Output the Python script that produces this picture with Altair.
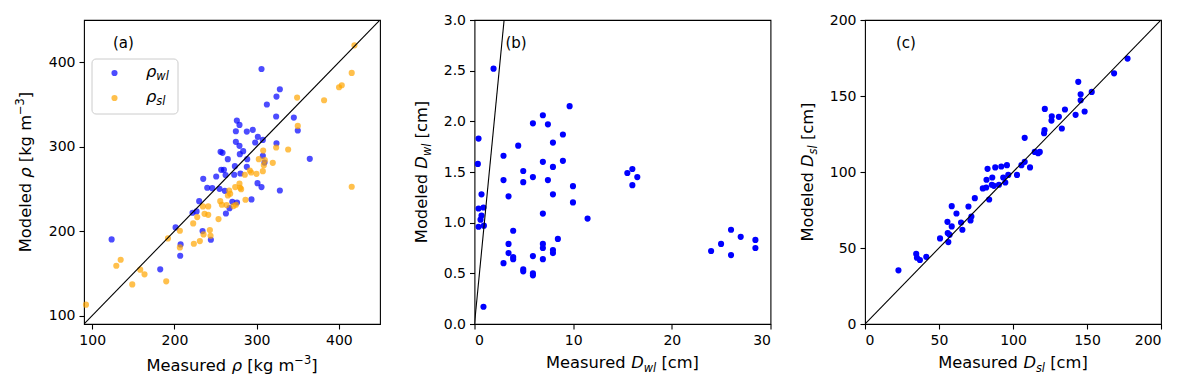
import altair as alt
import pandas as pd

# ---------------- data ----------------
# Panel (a): density
rho_wl_measured = [305.9, 328.2, 324.1, 312.4, 323.7, 350.0, 275.9, 279.1, 274.7, 288.0,
                   295.3, 301.4, 298.2, 307.5, 274.7, 279.1, 324.1, 283.6, 256.1, 258.5,
                   279.5, 264.9, 307.5, 309.5, 273.5, 288.0, 364.6, 256.9, 260.2, 250.8,
                   262.2, 272.7, 235.0, 301.0, 305.9, 328.2, 239.9, 246.0, 254.8, 293.7,
                   270.4, 276.1, 230.1, 262.6, 222.0, 226.9, 201.4, 234.2, 244.3, 207.5,
                   207.0, 123.6, 182.7, 280.3, 288.5, 261.3, 267.0, 345.2]
rho_wl_modeled = [392.0, 368.0, 359.3, 349.9, 335.7, 319.1, 330.9, 325.8, 318.3, 317.9,
                  319.9, 311.6, 304.9, 308.0, 305.7, 301.0, 304.0, 294.7, 293.9, 292.7,
                  291.1, 285.2, 289.1, 281.2, 276.9, 276.1, 285.6, 272.6, 272.6, 264.7,
                  266.3, 266.7, 261.9, 256.8, 252.1, 248.1, 251.3, 250.9, 250.1, 237.5,
                  234.7, 233.9, 235.5, 220.9, 221.7, 223.3, 204.4, 200.0, 189.8, 184.2,
                  170.8, 190.2, 154.7, 268.2, 285.2, 247.7, 227.2, 334.4]
rho_sl_measured = [418.9, 415.6, 403.5, 400.2, 382.0, 349.2, 350.0, 415.6, 338.3, 323.7,
                   307.9, 302.6, 309.9, 319.6, 308.7, 291.7, 285.6, 299.8, 307.5, 293.3,
                   279.1, 279.9, 281.1, 273.9, 266.6, 267.8, 265.0, 255.7, 257.7, 263.4,
                   271.9, 274.7, 286.4, 234.6, 241.1, 236.6, 241.1, 227.7, 253.6, 222.8,
                   206.6, 243.1, 235.4, 243.9, 230.9, 223.6, 206.6, 192.1, 134.6, 129.3,
                   158.4, 163.6, 148.7, 190.0, 92.4]
rho_sl_modeled = [420.0, 387.3, 372.7, 370.4, 355.0, 358.1, 324.6, 252.5, 296.6, 299.0,
                  295.4, 285.2, 284.0, 280.9, 278.1, 271.8, 266.7, 267.8, 271.0, 269.4,
                  256.4, 251.3, 249.7, 252.1, 248.1, 244.2, 242.2, 235.5, 231.2, 230.8,
                  229.6, 231.2, 237.1, 229.2, 229.2, 220.5, 219.3, 216.6, 214.2, 209.1,
                  200.4, 201.2, 196.1, 194.5, 188.2, 185.0, 180.7, 191.3, 166.1, 159.0,
                  154.3, 148.8, 136.9, 140.5, 112.9]

# Panel (b): D_wl
d_wl_measured = [1.93, 9.64, 6.93, 5.92, 7.44, 8.96, 7.95, 0.41, 4.43, 2.94,
                 0.34, 6.93, 8.96, 7.95, 4.94, 5.92, 2.94, 4.94, 7.44, 9.98,
                 7.95, 3.45, 9.98, 0.71, 0.41, 0.91, 0.71, 0.61, 0.41, 0.95,
                 6.93, 11.46, 15.49, 16.0, 16.5, 16.0, 3.92, 3.45, 8.45, 6.93,
                 6.93, 7.95, 7.95, 3.45, 3.92, 3.92, 5.92, 6.93, 2.94, 4.94,
                 4.94, 5.92, 5.92, 0.91, 26.0, 26.98, 28.47, 28.47, 24.99, 23.98,
                 26.0]
d_wl_modeled = [2.52, 2.15, 2.06, 1.98, 1.97, 1.87, 1.79, 1.83, 1.76, 1.66,
                1.58, 1.60, 1.61, 1.55, 1.51, 1.45, 1.42, 1.40, 1.42, 1.36,
                1.28, 1.26, 1.20, 1.28, 1.14, 1.15, 1.07, 1.03, 0.96, 0.97,
                1.09, 1.04, 1.49, 1.53, 1.45, 1.37, 0.92, 0.79, 0.84, 0.79,
                0.75, 0.73, 0.70, 0.70, 0.66, 0.64, 0.67, 0.64, 0.60, 0.54,
                0.52, 0.50, 0.48, 0.17, 0.93, 0.86, 0.83, 0.75, 0.79, 0.72,
                0.68]

# Panel (c): D_sl
d_sl_measured = [177.4, 168.3, 144.1, 153.2, 145.7, 145.7, 148.4, 142.3, 135.1, 131.0,
                 126.2, 126.0, 121.5, 133.0, 121.3, 121.0, 107.9, 118.1, 117.0, 114.7,
                 107.9, 105.7, 111.5, 102.7, 95.9, 92.1, 88.0, 82.8, 96.8, 93.4,
                 94.8, 90.5, 86.0, 82.1, 85.7, 87.1, 81.9, 79.6, 83.9, 74.2,
                 69.9, 58.6, 61.8, 71.9, 71.3, 64.9, 55.7, 58.6, 65.8, 55.9,
                 57.2, 50.7, 56.3, 34.6, 35.1, 37.1, 41.4, 22.6]
d_sl_modeled = [174.6, 164.9, 159.3, 152.7, 151.1, 147.2, 139.8, 137.6, 141.1, 136.3,
                136.7, 133.8, 141.5, 128.6, 127.5, 125.5, 122.5, 113.2, 112.4, 113.2,
                106.7, 104.5, 103.0, 98.1, 104.5, 103.6, 103.0, 102.1, 98.1, 96.4,
                93.1, 91.6, 96.4, 94.9, 91.6, 90.9, 89.8, 89.2, 81.9, 82.8,
                77.3, 77.5, 72.7, 70.7, 68.1, 66.8, 67.2, 64.2, 62.0, 59.8,
                58.7, 56.3, 53.9, 46.2, 43.6, 42.1, 44.2, 35.3]

# tick values
ticks_a = [100, 200, 300, 400]
ticks_b_x = [0, 10, 20, 30]
ticks_b_y = [0.0, 0.5, 1.0, 1.5, 2.0, 2.5, 3.0]
ticks_c_x = [0, 50, 100, 150, 200]
ticks_c_y = [0, 25, 50, 75, 100, 125, 150, 175, 200]

# ---------------- layout helpers ----------------
FONT = "DejaVu Sans"
W, H = 296, 304
TITLE = 16.3
SUB = 11.4
BLUE = "#0000ff"
ORANGE = "#ffa500"
DOT = 38

EM = {" ": 0.318, "M": 0.863, "e": 0.615, "a": 0.613, "s": 0.521, "u": 0.634, "r": 0.411,
      "d": 0.635, "o": 0.612, "l": 0.278, "[": 0.390, "]": 0.390, "k": 0.579, "g": 0.635,
      "m": 0.974, "c": 0.550, "(": 0.390, ")": 0.390, "\u2212": 0.838, "3": 0.636,
      "w": 0.818, "D": 0.770, "\u03c1": 0.635, "b": 0.635}


def tw(s, size):
    return sum(EM.get(ch, 0.6) for ch in s) * size


def rich(segments, x, y, angle=0, center=True):
    """segments: (text, size, italic, baseline shift); spaces are turned into offsets"""
    total = sum(tw(t, s) for t, s, _, _ in segments)
    off = -total / 2 if center else 0.0
    layers = []
    for t, s, it, sh in segments:
        lead = len(t) - len(t.lstrip(" "))
        core = t.strip(" ")
        start = off + tw(" " * lead, s)
        mk = dict(align="left", baseline="alphabetic", dx=start, dy=sh,
                  fontSize=s, font=FONT, color="black")
        if angle:
            mk["angle"] = angle
        if it:
            mk["fontStyle"] = "italic"
        layers.append(
            alt.Chart(pd.DataFrame({"t": [core]})).mark_text(**mk).encode(
                x=alt.value(x), y=alt.value(y), text="t:N"))
        off += tw(t, s)
    return layers


def lin(domain):
    return alt.Scale(domain=domain, nice=False, zero=False)


def points(meas, mod, color, opacity, dom_x, dom_y, tx, ty, yfmt=None):
    df = pd.DataFrame({"m": meas, "p": mod})
    yaxis = dict(values=ty, title="")
    if yfmt:
        yaxis["format"] = yfmt
    return alt.Chart(df).mark_circle(size=DOT, color=color, opacity=opacity).encode(
        x=alt.X("m:Q", scale=lin(dom_x), axis=alt.Axis(values=tx, title="")),
        y=alt.Y("p:Q", scale=lin(dom_y), axis=alt.Axis(**yaxis)),
    )


def one_to_one(lo, hi):
    df = pd.DataFrame({"m": [lo, hi], "p": [lo, hi]})
    return alt.Chart(df).mark_line(color="black", strokeWidth=1.1, clip=True).encode(
        x="m:Q", y="p:Q")


def label(t, x, y):
    return alt.Chart(pd.DataFrame({"t": [t]})).mark_text(
        align="left", baseline="alphabetic", fontSize=15, font=FONT, color="black"
    ).encode(x=alt.value(x), y=alt.value(y), text="t:N")


# ---------------- panel (a) ----------------
a_layers = [
    alt.Chart(pd.DataFrame({"t": [0]})).mark_rect(opacity=0).encode(
        x=alt.value(-75), x2=alt.value(0), y=alt.value(-11), y2=alt.value(0)),
    points(rho_wl_measured, rho_wl_modeled, BLUE, 0.7, [90, 450], [90, 450], ticks_a, ticks_a),
    points(rho_sl_measured, rho_sl_modeled, ORANGE, 0.7, [90, 450], [90, 450], ticks_a, ticks_a),
    one_to_one(90, 450),
    label("(a)", 29, 28),
    # legend
    alt.Chart(pd.DataFrame({"t": [0]})).mark_rect(
        fill="white", fillOpacity=0.8, stroke="#cccccc", strokeWidth=1, cornerRadius=4
    ).encode(x=alt.value(8), x2=alt.value(94), y=alt.value(39), y2=alt.value(94)),
    alt.Chart(pd.DataFrame({"t": [0]})).mark_circle(size=DOT, color=BLUE, opacity=0.7).encode(
        x=alt.value(30.5), y=alt.value(53)),
    alt.Chart(pd.DataFrame({"t": [0]})).mark_circle(size=DOT, color=ORANGE, opacity=0.7).encode(
        x=alt.value(30.5), y=alt.value(78)),
]
a_layers += rich([("\u03c1", TITLE, True, 0), ("wl", SUB, True, 3.5)], 62, 56.5, center=False)
a_layers += rich([("\u03c1", TITLE, True, 0), ("sl", SUB, True, 3.5)], 62, 81.5, center=False)
a_layers += rich([("Measured ", TITLE, False, 0), ("\u03c1", TITLE, True, 0),
                  (" [kg m", TITLE, False, 0), ("\u22123", SUB, False, -7),
                  ("]", TITLE, False, 0)], W / 2, H + 47)
a_layers += rich([("Modeled ", TITLE, False, 0), ("\u03c1", TITLE, True, 0),
                  (" [kg m", TITLE, False, 0), ("\u22123", SUB, False, -7),
                  ("]", TITLE, False, 0)], -53.5, H / 2, angle=270)
panel_a = alt.layer(*a_layers).properties(width=W, height=H)

# ---------------- panel (b) ----------------
b_layers = [
    points(d_wl_measured, d_wl_modeled, BLUE, 1.0, [0, 30], [0, 3], ticks_b_x, ticks_b_y, ".1f"),
    one_to_one(0, 3),
    label("(b)", 31, 28),
]
b_layers += rich([("Measured ", TITLE, False, 0), ("D", TITLE, True, 0),
                  ("wl", SUB, True, 3.5), (" [cm]", TITLE, False, 0)], W / 2, H + 44)
b_layers += rich([("Modeled ", TITLE, False, 0), ("D", TITLE, True, 0),
                  ("wl", SUB, True, 3.5), (" [cm]", TITLE, False, 0)], -47.5, H / 2, angle=270)
panel_b = alt.layer(*b_layers).properties(width=W, height=H)

# ---------------- panel (c) ----------------
c_layers = [
    points(d_sl_measured, d_sl_modeled, BLUE, 1.0, [0, 200], [0, 200], ticks_c_x, ticks_c_y),
    one_to_one(0, 200),
    label("(c)", 31, 28),
]
c_layers += rich([("Measured ", TITLE, False, 0), ("D", TITLE, True, 0),
                  ("sl", SUB, True, 3.5), (" [cm]", TITLE, False, 0)], W / 2, H + 44)
c_layers += rich([("Modeled ", TITLE, False, 0), ("D", TITLE, True, 0),
                  ("sl", SUB, True, 3.5), (" [cm]", TITLE, False, 0)], -52, H / 2, angle=270)
panel_c = alt.layer(*c_layers).properties(width=W, height=H)

chart = alt.hconcat(panel_a, panel_b, panel_c, spacing=94.5, bounds="flush").properties(
    padding={"left": 0, "top": 0, "right": 5, "bottom": 5},
    background="white",
).configure_view(
    stroke="black", strokeWidth=1.1
).configure_axis(
    grid=False, domain=False, labelFont=FONT, labelFontSize=14, labelColor="black",
    tickColor="black", tickSize=5, tickWidth=1.1, labelPadding=4, titlePadding=0,
)

chart.save("out.html", embed_options={"renderer": "svg", "actions": False})
